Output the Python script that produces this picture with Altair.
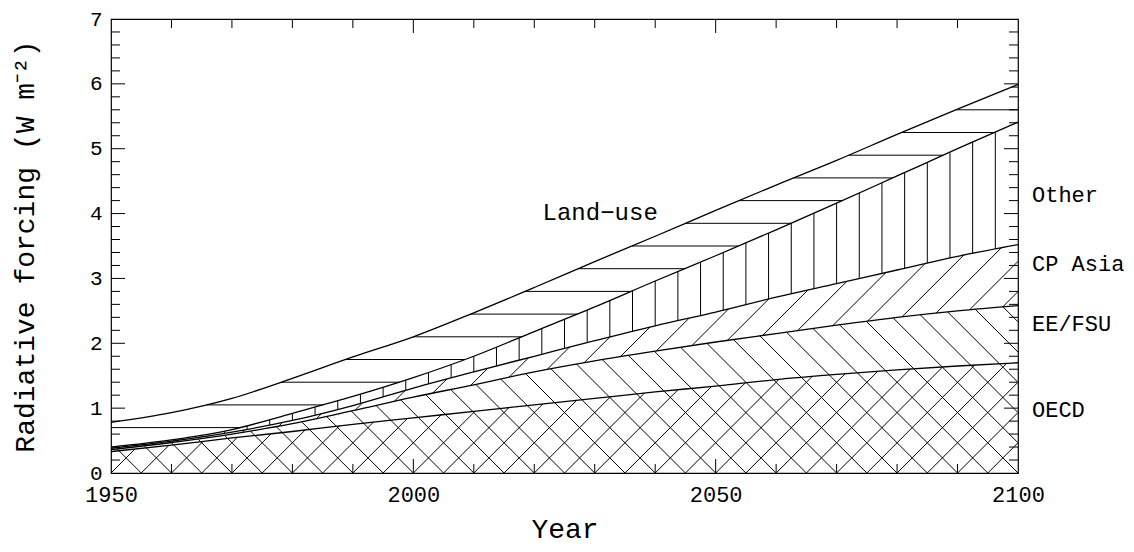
import numpy as np
import pandas as pd
import altair as alt

# ---------------- data ----------------
years = [1950, 1960, 1970, 1980, 1990, 2000, 2010, 2020,
         2030, 2040, 2050, 2060, 2070, 2080, 2090, 2100]
# cumulative upper edge of each stacked band (W m-2)
oecd_top     = [0.33, 0.43, 0.54, 0.64, 0.75, 0.85, 0.95, 1.05, 1.15, 1.25, 1.34, 1.44, 1.52, 1.59, 1.65, 1.70]
ee_fsu_top   = [0.36, 0.47, 0.60, 0.76, 0.96, 1.17, 1.36, 1.56, 1.73, 1.88, 2.02, 2.15, 2.28, 2.40, 2.50, 2.58]
cp_asia_top  = [0.38, 0.49, 0.63, 0.81, 1.04, 1.31, 1.56, 1.80, 2.04, 2.27, 2.48, 2.71, 2.92, 3.13, 3.34, 3.52]
other_top    = [0.40, 0.51, 0.67, 0.92, 1.18, 1.47, 1.80, 2.18, 2.56, 2.96, 3.35, 3.75, 4.16, 4.58, 5.00, 5.41]
land_use_top = [0.78, 0.93, 1.15, 1.46, 1.79, 2.10, 2.47, 2.86, 3.26, 3.65, 4.05, 4.44, 4.82, 5.22, 5.61, 5.99]

band_names = ["OECD", "EE/FSU", "CP Asia", "Other", "Land\u2212use"]
x_tick_labels = [1950, 2000, 2050, 2100]
y_tick_labels = [0, 1, 2, 3, 4, 5, 6, 7]

# annotation text
right_labels = ["Other", "CP Asia", "EE/FSU", "OECD"]
right_label_y = [4.29, 3.22, 2.30, 0.97]
inner_label = "Land\u2212use"
inner_label_year = 2030.9
inner_label_y = 4.01

# ---------------- layout / style ----------------
W, H = 907, 454
X_DOM = [1950, 2100]
Y_DOM = [0, 7]
FONT = "Liberation Mono"
MAJOR, MINOR = 14, 9

xs = alt.Scale(domain=X_DOM, nice=False, zero=False)
ys = alt.Scale(domain=Y_DOM, nice=False, zero=False)
x_axis = alt.Axis(values=x_tick_labels, format="d", title="Year", ticks=False, domain=False,
                  grid=False, labelPadding=11, titlePadding=10, labelFlush=False,
                  labelFontSize=22)
y_axis = alt.Axis(values=y_tick_labels, format="d", title="Radiative forcing (W m\u207b\u00b2)",
                  ticks=False, domain=False, grid=False, labelPadding=9, titlePadding=50,
                  labelFlush=False, labelFontSize=21)


# ---------------- monotone interpolation (same as Vega's "monotone") ----------------
def monotone(xp, yp, xq):
    x = np.asarray(xp, float)
    y = np.asarray(yp, float)
    n = len(x)
    h = np.diff(x)
    s = np.diff(y) / h
    m = np.zeros(n)
    sg = lambda v: -1.0 if v < 0 else 1.0
    for i in range(1, n - 1):
        p = (s[i - 1] * h[i] + s[i] * h[i - 1]) / (h[i - 1] + h[i])
        m[i] = (sg(s[i - 1]) + sg(s[i])) * min(abs(s[i - 1]), abs(s[i]), 0.5 * abs(p))
    m[0] = (3 * s[0] - m[1]) / 2
    m[-1] = (3 * s[-1] - m[-2]) / 2
    xq = np.atleast_1d(np.asarray(xq, float))
    idx = np.clip(np.searchsorted(x, xq, side="right") - 1, 0, n - 2)
    hh = h[idx]
    u = (xq - x[idx]) / hh
    h00 = 2 * u**3 - 3 * u**2 + 1
    h10 = u**3 - 2 * u**2 + u
    h01 = -2 * u**3 + 3 * u**2
    h11 = u**3 - u**2
    return h00 * y[idx] + h10 * hh * m[idx] + h01 * y[idx + 1] + h11 * hh * m[idx + 1]


# ---------------- boundary lines ----------------
tops = [oecd_top, ee_fsu_top, cp_asia_top, other_top, land_use_top]
rows = []
for name, arr in zip(band_names, tops):
    for yr, v in zip(years, arr):
        rows.append({"year": yr, "band": name, "value": v})
lines_df = pd.DataFrame(rows)

# ---------------- hatching (derived from the band edges) ----------------
px_per_year = W / (X_DOM[1] - X_DOM[0])
px_per_unit = H / (Y_DOM[1] - Y_DOM[0])
k45 = px_per_year / px_per_unit          # value change per year for a 45-degree line

t = np.linspace(X_DOM[0], X_DOM[1], 6001)
edge = {
    "zero": np.zeros_like(t),
    "oecd": monotone(years, oecd_top, t),
    "ee": monotone(years, ee_fsu_top, t),
    "cp": monotone(years, cp_asia_top, t),
    "other": monotone(years, other_top, t),
    "total": monotone(years, land_use_top, t),
}


def clip(L, lo, up):
    f = np.minimum(L - lo, up - L)
    inside = f >= 0
    segs = []
    n = len(t)
    i = 0
    while i < n:
        if inside[i]:
            j = i
            while j + 1 < n and inside[j + 1]:
                j += 1
            if i > 0:
                a = f[i - 1] / (f[i - 1] - f[i])
                t0 = t[i - 1] + (t[i] - t[i - 1]) * a
            else:
                t0 = t[i]
            if j < n - 1:
                a = f[j] / (f[j] - f[j + 1])
                t1 = t[j] + (t[j + 1] - t[j]) * a
            else:
                t1 = t[j]
            if t1 - t0 > 1e-3:
                segs.append((t0, t1))
            i = j + 1
        else:
            i += 1
    return segs


hatch = []


def add_line(L_func, lo, up):
    L = L_func(t)
    for t0, t1 in clip(L, edge[lo], edge[up]):
        hatch.append({"x": t0, "y": float(L_func(np.array([t0]))[0]),
                      "x2": t1, "y2": float(L_func(np.array([t1]))[0])})


DIAG_STEP = 5.0
anchors = np.arange(1850, 2200.01, DIAG_STEP)
for a in anchors:                       # OECD: cross hatch
    add_line(lambda tt, a=a: k45 * (tt - a), "zero", "oecd")
    add_line(lambda tt, a=a: k45 * (a - tt), "zero", "oecd")
for a in anchors:                       # EE/FSU: back-slash
    add_line(lambda tt, a=a: k45 * (a - tt), "oecd", "ee")
for a in anchors:                       # CP Asia: slash
    add_line(lambda tt, a=a: k45 * (tt - a), "ee", "cp")
for lev in np.arange(0.35, 7.0, 0.35):  # Land-use: horizontal
    add_line(lambda tt, lev=lev: np.full_like(tt, lev), "other", "total")
for yv in np.arange(1950 + 3.75, 2100, 3.75):   # Other: vertical
    lo = float(monotone(years, cp_asia_top, yv)[0])
    up = float(monotone(years, other_top, yv)[0])
    if up - lo > 1e-3:
        hatch.append({"x": yv, "y": lo, "x2": yv, "y2": up})

hatch_df = pd.DataFrame(hatch)

# ---------------- chart ----------------
base_lines = alt.Chart(lines_df).mark_line(
    color="black", strokeWidth=1.3, clip=True, interpolate="monotone").encode(
    x=alt.X("year:Q", scale=xs, axis=x_axis),
    y=alt.Y("value:Q", scale=ys, axis=y_axis),
    detail="band:N",
)

hatch_layer = alt.Chart(hatch_df).mark_rule(color="black", strokeWidth=1, clip=True).encode(
    x=alt.X("x:Q", scale=xs, axis=x_axis),
    y=alt.Y("y:Q", scale=ys, axis=y_axis),
    x2="x2:Q",
    y2="y2:Q",
)

x_major = [2000, 2050]
x_minor = [yv for yv in range(1960, 2100, 10) if yv not in (2000, 2050)]
y_major = [1, 2, 3, 4, 5, 6]
y_minor = [round(v / 5, 1) for v in range(1, 35) if v % 5 != 0]


def xticks(vals, length, top):
    df = pd.DataFrame({"year": vals})
    y0 = 0 if top else H
    y1 = length if top else H - length
    return alt.Chart(df).mark_rule(color="black", strokeWidth=1).encode(
        x=alt.X("year:Q", scale=xs, axis=x_axis),
        y=alt.value(y0), y2=alt.value(y1))


def yticks(vals, length, right):
    df = pd.DataFrame({"value": vals})
    x0 = W if right else 0
    x1 = W - length if right else length
    return alt.Chart(df).mark_rule(color="black", strokeWidth=1).encode(
        y=alt.Y("value:Q", scale=ys, axis=y_axis),
        x=alt.value(x0), x2=alt.value(x1))


tick_layers = [
    xticks(x_major, MAJOR, False), xticks(x_minor, MINOR, False),
    xticks(x_major, MAJOR, True), xticks(x_minor, MINOR, True),
    yticks(y_major, MAJOR, False), yticks(y_minor, MINOR, False),
    yticks(y_major, MAJOR, True), yticks(y_minor, MINOR, True),
]

right_df = pd.DataFrame({"label": right_labels, "value": right_label_y})
right_text = alt.Chart(right_df).mark_text(
    font=FONT, fontSize=22, align="left", baseline="middle", color="black").encode(
    x=alt.value(W + 14),
    y=alt.Y("value:Q", scale=ys, axis=y_axis),
    text="label:N")

inner_df = pd.DataFrame({"label": [inner_label], "year": [inner_label_year], "value": [inner_label_y]})
inner_text = alt.Chart(inner_df).mark_text(
    font=FONT, fontSize=24, align="center", baseline="middle", color="black").encode(
    x=alt.X("year:Q", scale=xs, axis=x_axis),
    y=alt.Y("value:Q", scale=ys, axis=y_axis),
    text="label:N")

chart = alt.layer(hatch_layer, base_lines, *tick_layers, right_text, inner_text).properties(
    width=W, height=H,
    autosize=alt.AutoSizeParams(type="none"),
    padding={"left": 103, "top": 11, "right": 108, "bottom": 78},
    background="white",
).configure_view(stroke="black", strokeWidth=1.2).configure_axis(
    labelFont=FONT, labelColor="black",
    titleFont=FONT, titleFontSize=28, titleColor="black", titleFontWeight="normal",
)

chart.save("out.html", embed_options={"renderer": "svg", "actions": False})
